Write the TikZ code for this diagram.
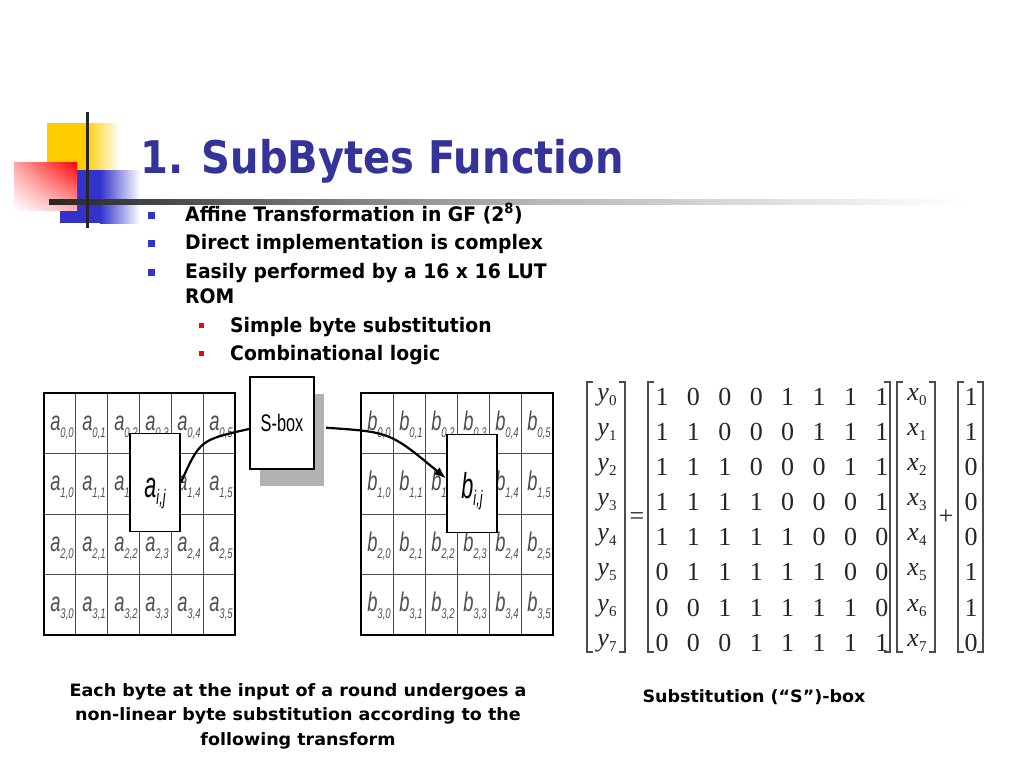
\documentclass[tikz,border=0pt]{standalone}
\usepackage{fontspec}
\usepackage{tikz}
\usetikzlibrary{positioning, arrows, arrows.meta, shadows, shadings}
\newfontfamily\tahoma[FakeStretch=0.94]{DejaVu Sans}
\newfontfamily\titrefont[FakeStretch=0.89]{DejaVu Sans}
\newfontfamily\legende[FakeStretch=1.03]{DejaVu Sans}
\newfontfamily\arialn[FakeStretch=0.68]{Liberation Sans}
\newfontfamily\arialg[FakeStretch=0.6]{Liberation Sans}
\newfontfamily\timesf{Liberation Serif}
\definecolor{bleutitre}{RGB}{51,51,153}
\definecolor{bleupuce}{RGB}{51,51,204}
\definecolor{jaune}{RGB}{255,204,0}
\definecolor{grise}{RGB}{80,80,80}
\newcommand{\ind}[2]{#1\raisebox{-7pt}{\fontsize{14}{14}\selectfont #2}}
\newcommand{\grand}[2]{\raisebox{-15pt}[0pt][0pt]{#1\raisebox{-7pt}{\fontsize{21}{21}\selectfont #2}}}
\newcommand{\vsub}[2]{\textit{#1}\raisebox{-5pt}{\fontsize{15}{15}\selectfont #2}}
\begin{document}
\begin{tikzpicture}[x=1pt,y=-1pt,
  cel/.style={anchor=base, font=\arialn\itshape\fontsize{27}{27}\selectfont, text=grise, inner sep=0pt},
  boite/.style={draw, line width=1.8pt, fill=white, minimum width=50pt, minimum height=98pt, inner sep=0pt, font=\arialg\itshape\fontsize{36}{36}\selectfont},
  texte/.style={anchor=base west, inner sep=0pt, font=\tahoma\bfseries\fontsize{20}{20}\selectfont},
  mat/.style={inner sep=0pt, font=\timesf\fontsize{26}{26}\selectfont, text=black!85},
  crochet/.style={line width=1.4pt, black!70}]
\useasboundingbox (0,0) rectangle (1024,768);
\fill[white] (0,0) rectangle (1024,768);

% le logo en haut a gauche
\fill[jaune] (47,123) rectangle (85,195);
\shade[left color=jaune, right color=white] (85,123) rectangle (120,170);
\fill[bleupuce] (60,170) rectangle (100,223);
\shade[left color=bleupuce, right color=white] (100,170) rectangle (140,223);
\shade[upper left=red!35!white, upper right=red, lower left=white, lower right=red!30!white] (14,162) rectangle (77,210);
\shade[left color=black!85, right color=black!28] (49,199) rectangle (540,204);
\shade[left color=black!28, right color=white] (540,199) rectangle (965,204);
\draw[line width=3pt, black!85] (87,112) -- (87,228);

% titre
\node[anchor=base west, inner sep=0pt, text=bleutitre, font=\titrefont\bfseries\fontsize{45}{45}\selectfont] (titre) at (140,173) {1. SubBytes Function};

% les puces
\fill[bleupuce] (147.5,211.5) rectangle (154.5,218.5);
\fill[bleupuce] (147.5,239.5) rectangle (154.5,246.5);
\fill[bleupuce] (147.5,268.5) rectangle (154.5,275.5);
\fill[red] (199,323) rectangle (204,328);
\fill[red] (199,351) rectangle (204,356);
\node[texte] (l1) at (185,221) {Affine Transformation in GF (2\textsuperscript{8})};
\node[texte] (l2) at (185,249) {Direct implementation is complex};
\node[texte] (l3) at (185,278) {Easily performed by a 16 x 16 LUT};
\node[texte] (l4) at (185,303) {ROM};
\node[texte] (l5) at (230,332) {Simple byte substitution};
\node[texte] (l6) at (230,360) {Combinational logic};

% grille a
\draw[line width=0.8pt, black!70] (75.8,393) -- (75.8,635);
\draw[line width=0.8pt, black!70] (107.7,393) -- (107.7,635);
\draw[line width=0.8pt, black!70] (139.5,393) -- (139.5,635);
\draw[line width=0.8pt, black!70] (171.3,393) -- (171.3,635);
\draw[line width=0.8pt, black!70] (203.2,393) -- (203.2,635);
\draw[line width=0.8pt, black!70] (44,453.5) -- (235,453.5);
\draw[line width=0.8pt, black!70] (44,514) -- (235,514);
\draw[line width=0.8pt, black!70] (44,574.5) -- (235,574.5);
\draw[line width=2pt] (44,393) rectangle (235,635);

\node[cel] (a00) at (62,430) {\ind{a}{0,0}};
\node[cel] (a01) at (94,430) {\ind{a}{0,1}};
\node[cel] (a02) at (126,430) {\ind{a}{0,2}};
\node[cel] (a03) at (157,430) {\ind{a}{0,3}};
\node[cel] (a04) at (189,430) {\ind{a}{0,4}};
\node[cel] (a05) at (221,430) {\ind{a}{0,5}};
\node[cel] (a10) at (62,490.5) {\ind{a}{1,0}};
\node[cel] (a11) at (94,490.5) {\ind{a}{1,1}};
\node[cel] (a12) at (126,490.5) {\ind{a}{1,2}};
\node[cel] (a14) at (189,490.5) {\ind{a}{1,4}};
\node[cel] (a15) at (221,490.5) {\ind{a}{1,5}};
\node[cel] (a20) at (62,551) {\ind{a}{2,0}};
\node[cel] (a21) at (94,551) {\ind{a}{2,1}};
\node[cel] (a22) at (126,551) {\ind{a}{2,2}};
\node[cel] (a23) at (157,551) {\ind{a}{2,3}};
\node[cel] (a24) at (189,551) {\ind{a}{2,4}};
\node[cel] (a25) at (221,551) {\ind{a}{2,5}};
\node[cel] (a30) at (62,611.5) {\ind{a}{3,0}};
\node[cel] (a31) at (94,611.5) {\ind{a}{3,1}};
\node[cel] (a32) at (126,611.5) {\ind{a}{3,2}};
\node[cel] (a33) at (157,611.5) {\ind{a}{3,3}};
\node[cel] (a34) at (189,611.5) {\ind{a}{3,4}};
\node[cel] (a35) at (221,611.5) {\ind{a}{3,5}};

% grille b
\draw[line width=0.8pt, black!70] (393,393) -- (393,635);
\draw[line width=0.8pt, black!70] (425,393) -- (425,635);
\draw[line width=0.8pt, black!70] (457,393) -- (457,635);
\draw[line width=0.8pt, black!70] (489,393) -- (489,635);
\draw[line width=0.8pt, black!70] (521,393) -- (521,635);
\draw[line width=0.8pt, black!70] (361,453.5) -- (553,453.5);
\draw[line width=0.8pt, black!70] (361,514) -- (553,514);
\draw[line width=0.8pt, black!70] (361,574.5) -- (553,574.5);
\draw[line width=2pt] (361,393) rectangle (553,635);

\node[cel] (b00) at (379,430) {\ind{b}{0,0}};
\node[cel] (b01) at (411,430) {\ind{b}{0,1}};
\node[cel] (b02) at (443,430) {\ind{b}{0,2}};
\node[cel] (b03) at (475,430) {\ind{b}{0,3}};
\node[cel] (b04) at (507,430) {\ind{b}{0,4}};
\node[cel] (b05) at (539,430) {\ind{b}{0,5}};
\node[cel] (b10) at (379,490.5) {\ind{b}{1,0}};
\node[cel] (b11) at (411,490.5) {\ind{b}{1,1}};
\node[cel] (b12) at (443,490.5) {\ind{b}{1,2}};
\node[cel] (b14) at (507,490.5) {\ind{b}{1,4}};
\node[cel] (b15) at (539,490.5) {\ind{b}{1,5}};
\node[cel] (b20) at (379,551) {\ind{b}{2,0}};
\node[cel] (b21) at (411,551) {\ind{b}{2,1}};
\node[cel] (b22) at (443,551) {\ind{b}{2,2}};
\node[cel] (b23) at (475,551) {\ind{b}{2,3}};
\node[cel] (b24) at (507,551) {\ind{b}{2,4}};
\node[cel] (b25) at (539,551) {\ind{b}{2,5}};
\node[cel] (b30) at (379,611.5) {\ind{b}{3,0}};
\node[cel] (b31) at (411,611.5) {\ind{b}{3,1}};
\node[cel] (b32) at (443,611.5) {\ind{b}{3,2}};
\node[cel] (b33) at (475,611.5) {\ind{b}{3,3}};
\node[cel] (b34) at (507,611.5) {\ind{b}{3,4}};
\node[cel] (b35) at (539,611.5) {\ind{b}{3,5}};

% les boites
\node[boite] (aij) at (155,482.5) {\grand{a}{i,j}};
\node[boite] (bij) at (472,483.5) {\grand{b}{i,j}};
\node[draw, line width=2.2pt, fill=white, minimum width=64pt, minimum height=92pt, inner sep=0pt,
  drop shadow={shadow xshift=10pt, shadow yshift=-17pt, fill=black!30, opacity=1},
  font=\arialn\fontsize{24}{24}\selectfont] (sbox) at (282,423) {S-box};

% les fleches
\draw[line width=2.2pt] (aij.east) .. controls (200,440) .. ([yshift=-6pt]sbox.west);
\draw[line width=2.2pt, -{Latex[length=12pt,width=9pt]}, shorten <=11pt] ([yshift=-4pt]sbox.east) .. controls (390,432) .. ([yshift=5pt]bij.west);

% la matrice
\draw[crochet] (593,382) -- (587,382) -- (587,652) -- (593,652);
\draw[crochet] (619,382) -- (625,382) -- (625,652) -- (619,652);
\draw[crochet] (654,382) -- (648,382) -- (648,652) -- (654,652);
\draw[crochet] (884,382) -- (890,382) -- (890,652) -- (884,652);
\draw[crochet, line width=2.6pt] (903,382) -- (897,382) -- (897,652) -- (903,652);
\draw[crochet] (929,382) -- (935,382) -- (935,652) -- (929,652);
\draw[crochet] (964,382) -- (958,382) -- (958,652) -- (964,652);
\draw[crochet] (977,382) -- (983,382) -- (983,652) -- (977,652);

\node[mat] (y0) at (607,397) {\vsub{y}{0}};
\node[mat] (y1) at (607,432) {\vsub{y}{1}};
\node[mat] (y2) at (607,467) {\vsub{y}{2}};
\node[mat] (y3) at (607,502) {\vsub{y}{3}};
\node[mat] (y4) at (607,537) {\vsub{y}{4}};
\node[mat] (y5) at (607,572) {\vsub{y}{5}};
\node[mat] (y6) at (607,608) {\vsub{y}{6}};
\node[mat] (y7) at (607,643) {\vsub{y}{7}};

\node[mat] (egal) at (637,519) {=};

\node[mat] (m0) at (772,397) {\makebox[31.4pt]{1}\makebox[31.4pt]{0}\makebox[31.4pt]{0}\makebox[31.4pt]{0}\makebox[31.4pt]{1}\makebox[31.4pt]{1}\makebox[31.4pt]{1}\makebox[31.4pt]{1}};
\node[mat] (m1) at (772,432) {\makebox[31.4pt]{1}\makebox[31.4pt]{1}\makebox[31.4pt]{0}\makebox[31.4pt]{0}\makebox[31.4pt]{0}\makebox[31.4pt]{1}\makebox[31.4pt]{1}\makebox[31.4pt]{1}};
\node[mat] (m2) at (772,467) {\makebox[31.4pt]{1}\makebox[31.4pt]{1}\makebox[31.4pt]{1}\makebox[31.4pt]{0}\makebox[31.4pt]{0}\makebox[31.4pt]{0}\makebox[31.4pt]{1}\makebox[31.4pt]{1}};
\node[mat] (m3) at (772,502) {\makebox[31.4pt]{1}\makebox[31.4pt]{1}\makebox[31.4pt]{1}\makebox[31.4pt]{1}\makebox[31.4pt]{0}\makebox[31.4pt]{0}\makebox[31.4pt]{0}\makebox[31.4pt]{1}};
\node[mat] (m4) at (772,537) {\makebox[31.4pt]{1}\makebox[31.4pt]{1}\makebox[31.4pt]{1}\makebox[31.4pt]{1}\makebox[31.4pt]{1}\makebox[31.4pt]{0}\makebox[31.4pt]{0}\makebox[31.4pt]{0}};
\node[mat] (m5) at (772,572) {\makebox[31.4pt]{0}\makebox[31.4pt]{1}\makebox[31.4pt]{1}\makebox[31.4pt]{1}\makebox[31.4pt]{1}\makebox[31.4pt]{1}\makebox[31.4pt]{0}\makebox[31.4pt]{0}};
\node[mat] (m6) at (772,608) {\makebox[31.4pt]{0}\makebox[31.4pt]{0}\makebox[31.4pt]{1}\makebox[31.4pt]{1}\makebox[31.4pt]{1}\makebox[31.4pt]{1}\makebox[31.4pt]{1}\makebox[31.4pt]{0}};
\node[mat] (m7) at (772,643) {\makebox[31.4pt]{0}\makebox[31.4pt]{0}\makebox[31.4pt]{0}\makebox[31.4pt]{1}\makebox[31.4pt]{1}\makebox[31.4pt]{1}\makebox[31.4pt]{1}\makebox[31.4pt]{1}};

\node[mat] (x0) at (917,397) {\vsub{x}{0}};
\node[mat] (x1) at (917,432) {\vsub{x}{1}};
\node[mat] (x2) at (917,467) {\vsub{x}{2}};
\node[mat] (x3) at (917,502) {\vsub{x}{3}};
\node[mat] (x4) at (917,537) {\vsub{x}{4}};
\node[mat] (x5) at (917,572) {\vsub{x}{5}};
\node[mat] (x6) at (917,608) {\vsub{x}{6}};
\node[mat] (x7) at (917,643) {\vsub{x}{7}};

\node[mat] (plus) at (946,517) {+};

\node[mat] (c0) at (971,397) {1};
\node[mat] (c1) at (971,432) {1};
\node[mat] (c2) at (971,467) {0};
\node[mat] (c3) at (971,502) {0};
\node[mat] (c4) at (971,537) {0};
\node[mat] (c5) at (971,572) {1};
\node[mat] (c6) at (971,608) {1};
\node[mat] (c7) at (971,643) {0};

% legendes
\node[inner sep=0pt, align=center, font=\legende\bfseries\fontsize{17}{24.5}\selectfont] (leg1) at (298,716) {Each byte at the input of a round undergoes a\\non-linear byte substitution according to the\\following transform};
\node[inner sep=0pt, font=\legende\bfseries\fontsize{17}{24.5}\selectfont] (leg2) at (754,697) {Substitution (“S”)-box};
\end{tikzpicture}
\end{document}
